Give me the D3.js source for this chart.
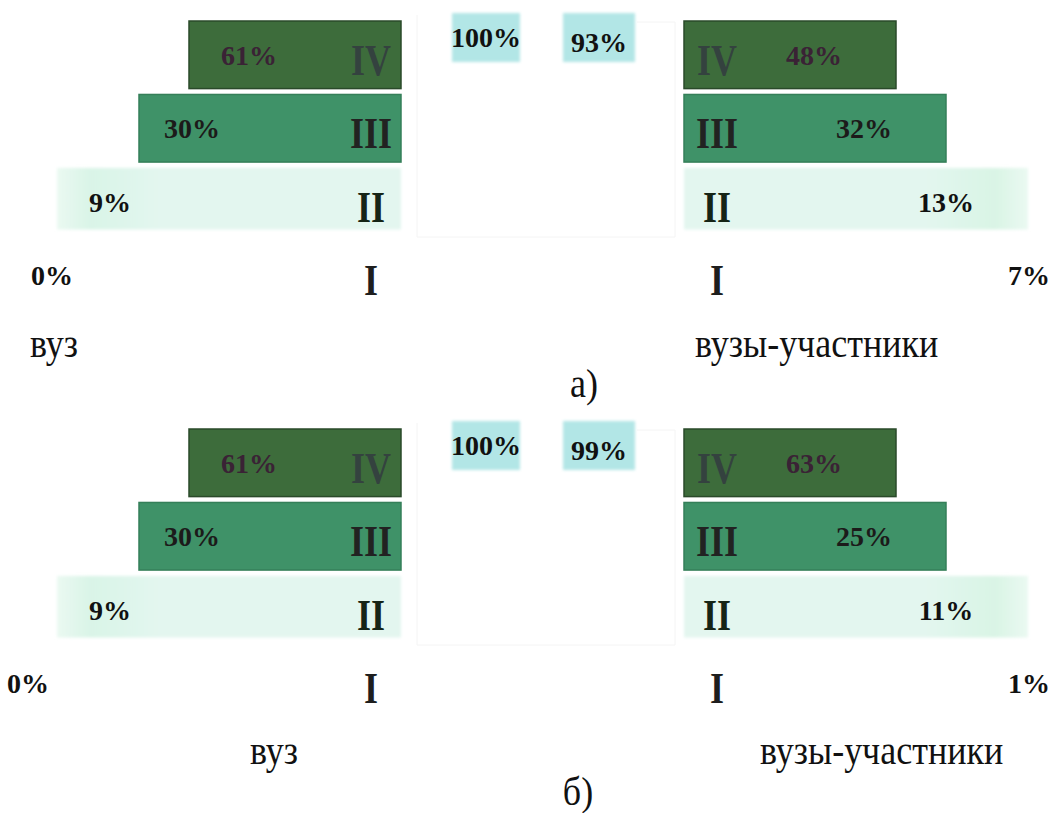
<!DOCTYPE html>
<html>
<head>
<meta charset="utf-8">
<script src="https://cdn.jsdelivr.net/npm/d3@7"></script>
<style>
html,body{margin:0;padding:0;background:#fff;}
svg{display:block;}
text{font-family:"Liberation Serif","Times New Roman",serif;}
</style>
</head>
<body>
<svg id="chart" width="1057" height="813"></svg>
<script>
// ---- data ----
const levels = ["IV", "III", "II", "I"];
const vuzA = [61, 30, 9, 0];          // вуз, panel а)
const partA = [48, 32, 13, 7];        // вузы-участники, panel а)
const totalsA = [100, 93];
const vuzB = [61, 30, 9, 0];          // вуз, panel б)
const partB = [63, 25, 11, 1];        // вузы-участники, panel б)
const totalsB = [100, 99];
const groupNames = ["вуз", "вузы-участники"];
const captions = ["а)", "б)"];

// ---- layout ----
const svg = d3.select("#chart");
const xLeftEdge = 401, xRightEdge = 684;
const y = d3.scaleBand().domain(levels).range([0, 288]).paddingInner(0.08);
const barWidth = d3.scaleOrdinal().domain(["IV", "III", "II", "I"]).range([212, 262, 344, 0]);
const fill = d3.scaleOrdinal().domain(levels).range(["#3d6c3b", "#3f9268", "#e1f6ee", "none"]);
const stroke = d3.scaleOrdinal().domain(levels).range(["#2a4a2a", "#357f59", "none", "none"]);
const romanFill = d3.scaleOrdinal().domain(levels).range(["#34423f", "#222222", "#162416", "#1e1e1e"]);
const pctFill = d3.scaleOrdinal().domain(levels).range(["#3a2235", "#1c1a1a", "#111", "#111"]);

const panels = [
  {vuz: vuzA, part: partA, totals: totalsA, top: 21, zeroX: 31, vuzX: 30, partX: 695, nameY: 357, caption: captions[0], capX: 584, capY: 397},
  {vuz: vuzB, part: partB, totals: totalsB, top: 429, zeroX: 7, vuzX: 250, partX: 760, nameY: 764, caption: captions[1], capX: 578, capY: 805}
];

const defs = svg.append("defs");
const gl = defs.append("linearGradient").attr("id", "fadeL").attr("x1", "0").attr("x2", "1");
gl.append("stop").attr("offset", "0").attr("stop-color", "#d6f3e4").attr("stop-opacity", 0.5);
gl.append("stop").attr("offset", "0.1").attr("stop-color", "#d9f4e7");
gl.append("stop").attr("offset", "0.3").attr("stop-color", "#e3f6ef");
gl.append("stop").attr("offset", "1").attr("stop-color", "#e3f6ef");
const gr = defs.append("linearGradient").attr("id", "fadeR").attr("x1", "0").attr("x2", "1");
gr.append("stop").attr("offset", "0").attr("stop-color", "#e3f6ef");
gr.append("stop").attr("offset", "0.7").attr("stop-color", "#e3f6ef");
gr.append("stop").attr("offset", "0.9").attr("stop-color", "#d9f4e5");
gr.append("stop").attr("offset", "1").attr("stop-color", "#d6f3e4").attr("stop-opacity", 0.5);
defs.append("filter").attr("id", "soft").append("feGaussianBlur").attr("stdDeviation", 1.5);

const romanTf = (x, yy) => `translate(${x},${yy}) scale(0.9,1.1)`;

panels.forEach(p => {
  const g = svg.append("g").attr("transform", `translate(0,${p.top})`);

  // faint frame in the middle
  g.append("path")
    .attr("d", `M417,-6V216H675V1H637`)
    .attr("fill", "none").attr("stroke", "#f4f4f4").attr("stroke-width", 1);

  // totals boxes
  const boxes = [{cx: 486, w: 68, v: p.totals[0], dy: 17}, {cx: 599, w: 72, v: p.totals[1], dy: 22}];
  boxes.forEach(b => {
    g.append("rect").attr("x", b.cx - b.w / 2).attr("y", -8).attr("width", b.w).attr("height", 49)
      .attr("fill", "#b2e6e6").attr("filter", "url(#soft)");
    g.append("text").attr("x", b.cx).attr("y", b.dy + 9).attr("text-anchor", "middle")
      .attr("font-size", 28).attr("font-weight", "bold").attr("fill", "#111").text(b.v + "%");
  });

  // left pyramid (вуз)
  const left = levels.map((l, i) => ({level: l, v: p.vuz[i]}));
  g.selectAll(".barL").data(left.filter(d => d.level !== "I")).join("rect")
    .attr("x", d => xLeftEdge - barWidth(d.level))
    .attr("y", d => y(d.level))
    .attr("width", d => barWidth(d.level))
    .attr("height", d => d.level === "II" ? y.bandwidth() - 6 : y.bandwidth())
    .attr("fill", d => d.level === "II" ? "url(#fadeL)" : fill(d.level))
    .attr("stroke", d => stroke(d.level)).attr("stroke-width", 1.5)
    .attr("filter", d => d.level === "II" ? "url(#soft)" : null);
  g.selectAll(".romL").data(left).join("text")
    .attr("transform", d => romanTf(xLeftEdge - 30, y(d.level) + y.bandwidth() / 2 + 20))
    .attr("text-anchor", "middle").attr("font-size", 40).attr("font-weight", "bold")
    .attr("fill", d => romanFill(d.level)).text(d => d.level);
  g.selectAll(".pctL").data(left).join("text")
    .attr("x", d => d.level === "I" ? p.zeroX : xLeftEdge - barWidth(d.level) + (d.level === "III" ? 25 : 32))
    .attr("y", d => y(d.level) + y.bandwidth() / 2 + 10)
    .attr("font-size", 28).attr("font-weight", "bold")
    .attr("fill", d => pctFill(d.level)).text(d => d.v + "%");

  // right pyramid (вузы-участники)
  const right = levels.map((l, i) => ({level: l, v: p.part[i]}));
  g.selectAll(".barR").data(right.filter(d => d.level !== "I")).join("rect")
    .attr("x", xRightEdge)
    .attr("y", d => y(d.level))
    .attr("width", d => barWidth(d.level))
    .attr("height", d => d.level === "II" ? y.bandwidth() - 6 : y.bandwidth())
    .attr("fill", d => d.level === "II" ? "url(#fadeR)" : fill(d.level))
    .attr("stroke", d => stroke(d.level)).attr("stroke-width", 1.5)
    .attr("filter", d => d.level === "II" ? "url(#soft)" : null);
  g.selectAll(".romR").data(right).join("text")
    .attr("transform", d => romanTf(xRightEdge + 33, y(d.level) + y.bandwidth() / 2 + 20))
    .attr("text-anchor", "middle").attr("font-size", 40).attr("font-weight", "bold")
    .attr("fill", d => romanFill(d.level)).text(d => d.level);
  g.selectAll(".pctR").data(right).join("text")
    .attr("x", d => d.level === "I" ? 1029 : xRightEdge + barWidth(d.level) - 82)
    .attr("y", d => y(d.level) + y.bandwidth() / 2 + 10)
    .attr("text-anchor", "middle")
    .attr("font-size", 28).attr("font-weight", "bold")
    .attr("fill", d => pctFill(d.level)).text(d => d.v + "%");

  // group names and caption
  const lbl = (x, yy, t, anchor) => svg.append("text")
    .attr("transform", `translate(${x},${yy}) scale(1,1.1)`)
    .attr("text-anchor", anchor || "start")
    .attr("font-size", 36).attr("fill", "#111").text(t);
  lbl(p.vuzX, p.nameY, groupNames[0]);
  lbl(p.partX, p.nameY, groupNames[1]);
  lbl(p.capX, p.capY, p.caption, "middle");
});
</script>
</body>
</html>
